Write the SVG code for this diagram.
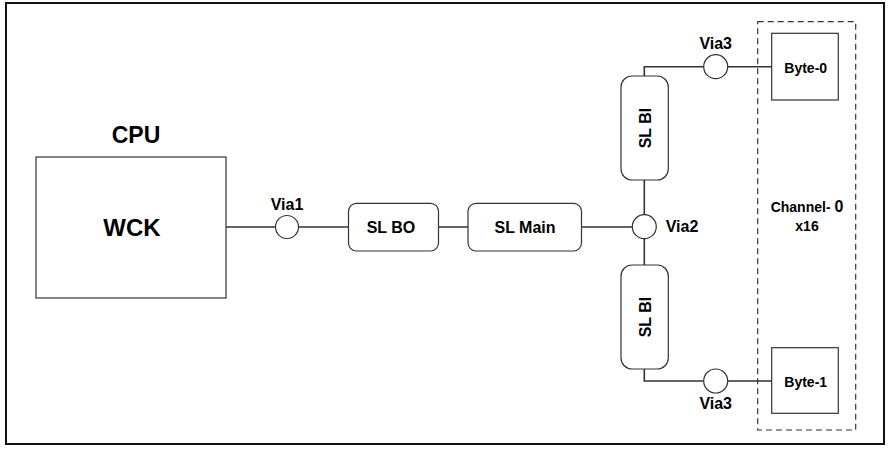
<svg xmlns="http://www.w3.org/2000/svg" width="896" height="454" viewBox="0 0 896 454">
<style>
.box{fill:#fff;stroke:#333;stroke-width:1.2}
.rbox{fill:#fff;stroke:#333;stroke-width:1.2}
.via{fill:#fff;stroke:#333;stroke-width:1.2}
.wire{fill:none;stroke:#333;stroke-width:1.6}
.t{font-family:"Liberation Sans",Arial,sans-serif;font-weight:bold;fill:#000;text-anchor:middle}
</style>
<rect x="0" y="0" width="896" height="454" fill="#fff"/>
<rect id="frame" x="6" y="3" width="878" height="441" fill="#fff" stroke="#111" stroke-width="2"/>
<g id="connectors">
<path class="wire" d="M226 227H275.5M298.5 227H348.5M438.5 227H468M581.5 227H632.3"/>
<path class="wire" d="M644.3 214.7V180M644.3 238.7V265"/>
<path class="wire" d="M644.3 76V66.7H703.7M727.7 66.7H771.7"/>
<path class="wire" d="M644.3 369V381H703.7M727.7 381H771.7"/>
</g>
<g id="channel">
<rect x="757.7" y="21.7" width="98" height="408.3" fill="none" stroke="#333" stroke-width="1.2" stroke-dasharray="6,4"/>
<text class="t" x="807" y="211.7" font-size="14">Channel- <tspan font-size="16">0</tspan></text>
<text class="t" x="807" y="231" font-size="14">x16</text>
</g>
<g id="cpu">
<text class="t" x="136" y="143" font-size="23">CPU</text>
<rect class="box" x="36" y="157" width="190" height="141"/>
<text class="t" x="132" y="236" font-size="24">WCK</text>
</g>
<g id="via1">
<circle class="via" cx="287" cy="227" r="11.5"/>
<text class="t" x="287" y="210" font-size="16">Via1</text>
</g>
<g id="slbo">
<rect class="rbox" x="348.5" y="203.3" width="90" height="47.7" rx="8"/>
<text class="t" x="391" y="232.7" font-size="16">SL BO</text>
</g>
<g id="slmain">
<rect class="rbox" x="468" y="203.3" width="113.5" height="47.7" rx="8"/>
<text class="t" x="525" y="232.7" font-size="16">SL Main</text>
</g>
<g id="via2">
<circle class="via" cx="644.3" cy="226.7" r="12"/>
<text class="t" x="682" y="231.7" font-size="16">Via2</text>
</g>
<g id="slbi-top">
<rect class="rbox" x="621" y="76" width="47.3" height="104" rx="11"/>
<text class="t" x="0" y="0" font-size="16" transform="translate(650.5,128) rotate(-90)">SL BI</text>
</g>
<g id="slbi-bottom">
<rect class="rbox" x="621" y="265" width="47.3" height="104" rx="11"/>
<text class="t" x="0" y="0" font-size="16" transform="translate(650.5,317) rotate(-90)">SL BI</text>
</g>
<g id="via3-top">
<circle class="via" cx="715.7" cy="66.7" r="12"/>
<text class="t" x="715.7" y="49.3" font-size="16">Via3</text>
</g>
<g id="via3-bottom">
<circle class="via" cx="715.7" cy="381" r="12"/>
<text class="t" x="715.7" y="409.3" font-size="16">Via3</text>
</g>
<g id="byte0">
<rect class="box" x="771.7" y="33.3" width="66.6" height="66.7"/>
<text class="t" x="805.7" y="72.7" font-size="14">Byte-0</text>
</g>
<g id="byte1">
<rect class="box" x="771.7" y="347.7" width="66.6" height="65.6"/>
<text class="t" x="805.7" y="386.5" font-size="14">Byte-1</text>
</g>
</svg>
